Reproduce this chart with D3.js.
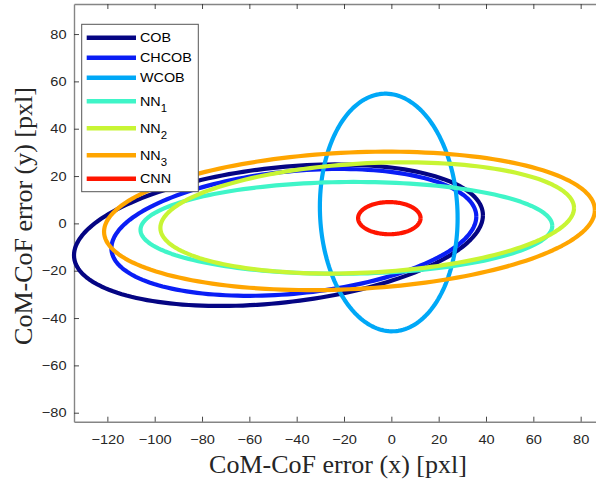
<!DOCTYPE html>
<html>
<head>
<meta charset="utf-8">
<script src="https://cdn.jsdelivr.net/npm/d3@7"></script>
<style>
  html, body { margin: 0; padding: 0; background: #fff; }
  svg { display: block; }
</style>
</head>
<body>
<svg id="chart" width="596" height="483"></svg>
<script>
// Error ellipses of the CoM-CoF estimate for each method.
const series   = ["COB", "CHCOB", "WCOB", "NN", "NN", "NN", "CNN"];
const subs     = ["", "", "", "1", "2", "3", ""];
const colors   = ["#050583", "#0a1ef5", "#00a8f7", "#3ff5c8", "#c8f534", "#ffa500", "#ff1500"];
// centre, half-extent along x and y, and the y offset of the rightmost point (tilt)
const centerX  = [-47.7, -41.2, -1.1, -19.0, -10.2, -17.7, -0.85];
const centerY  = [-5.0, -3.8, 4.6, -1.9, 2.3, 1.05, 2.2];
const spreadX  = [86.4, 77.1, 29.1, 87.0, 87.4, 103.7, 13.2];
const spreadY  = [29.9, 26.8, 50.2, 19.4, 23.5, 29.25, 6.8];
const tiltY    = [8.45, 6.7, -2.4, 0.85, 4.2, 4.55, 0];

const xTicks = [-120, -100, -80, -60, -40, -20, 0, 20, 40, 60, 80];
const yTicks = [-80, -60, -40, -20, 0, 20, 40, 60, 80];
const xDomain = [-134.1, 87.2];
const yDomain = [-83.8, 92.7];

const svg = d3.select("#chart");
const plot = { left: 74, top: 4, right: 597.7, bottom: 421.7 };

const x = d3.scaleLinear().domain(xDomain).range([plot.left, plot.right]);
const y = d3.scaleLinear().domain(yDomain).range([plot.bottom, plot.top]);

const tickFont = "'Liberation Sans', Arial, Helvetica, sans-serif";
const textColor = "#262626";
const widen = 1.14; // horizontal stretch of the sans-serif lettering

// Axes (MATLAB-style: inward ticks, box on top)
function styleAxis(g) {
  g.select(".domain").attr("stroke", "#858585").attr("stroke-width", 1.4);
  g.selectAll(".tick line").attr("stroke", "#333").attr("stroke-width", 0.9);
  g.selectAll(".tick text").attr("fill", textColor)
    .style("font-family", tickFont).style("font-size", "12.8px");
}

svg.append("g")
  .attr("transform", `translate(0,${plot.bottom})`)
  .call(d3.axisBottom(x).tickValues(xTicks).tickSize(-5).tickSizeOuter(0).tickPadding(13.5))
  .call(styleAxis)
  .selectAll(".tick text")
  .attr("transform", `scale(${widen},1)`);

svg.append("g")
  .attr("transform", `translate(0,${plot.top})`)
  .call(d3.axisTop(x).tickValues(xTicks).tickSize(-5).tickSizeOuter(0).tickFormat(""))
  .call(styleAxis);

svg.append("g")
  .attr("transform", `translate(${plot.left},0)`)
  .call(d3.axisLeft(y).tickValues(yTicks).tickSize(-5).tickSizeOuter(0).tickPadding(7.5))
  .call(styleAxis)
  .selectAll(".tick text")
  .attr("x", 0)
  .attr("transform", `translate(-7.5,0) scale(${widen},1)`);

// Ellipse outlines
const angles = d3.range(0, 361, 2).map(d => d * Math.PI / 180);
const line = d3.line().x(d => x(d[0])).y(d => y(d[1]));

series.forEach((name, i) => {
  const ry = Math.sqrt(spreadY[i] * spreadY[i] - tiltY[i] * tiltY[i]);
  const pts = angles.map(t => [
    centerX[i] + spreadX[i] * Math.cos(t),
    centerY[i] + tiltY[i] * Math.cos(t) + ry * Math.sin(t)
  ]);
  svg.append("path")
    .datum(pts)
    .attr("d", line)
    .attr("fill", "none")
    .attr("stroke", colors[i])
    .attr("stroke-width", 4.2)
    .attr("stroke-linejoin", "round");
});

// Axis labels
const labelFont = "'Liberation Serif', 'Times New Roman', serif";
svg.append("text")
  .attr("x", 338).attr("y", 472.5)
  .attr("text-anchor", "middle")
  .attr("fill", textColor)
  .style("font-family", labelFont).style("font-size", "26px")
  .text("CoM-CoF error (x) [pxl]");

svg.append("text")
  .attr("transform", "translate(31.5,216) rotate(-90)")
  .attr("text-anchor", "middle")
  .attr("fill", textColor)
  .style("font-family", labelFont).style("font-size", "26px")
  .text("CoM-CoF error (y) [pxl]");

// Legend
const legend = svg.append("g");
legend.append("rect")
  .attr("x", 81.7).attr("y", 24.3)
  .attr("width", 116.6).attr("height", 167.4)
  .attr("fill", "#fff").attr("stroke", "#555").attr("stroke-width", 1);

let rowY = 37.7;
series.forEach((name, i) => {
  if (i > 0) {
    const hPrev = subs[i - 1] ? 27 : 20;
    const hCur = subs[i] ? 27 : 20;
    rowY += (hPrev + hCur) / 2;
  }
  legend.append("line")
    .attr("x1", 86.7).attr("x2", 136)
    .attr("y1", rowY).attr("y2", rowY)
    .attr("stroke", colors[i]).attr("stroke-width", 4.6);
  const t = legend.append("text")
    .attr("transform", `translate(140,${rowY + 4.6}) scale(${widen},1)`)
    .attr("fill", "#000")
    .style("font-family", tickFont).style("font-size", "12.6px");
  t.append("tspan").text(name);
  if (subs[i]) {
    t.append("tspan").attr("dy", 6).style("font-size", "10px").text(subs[i]);
  }
});
</script>
</body>
</html>
